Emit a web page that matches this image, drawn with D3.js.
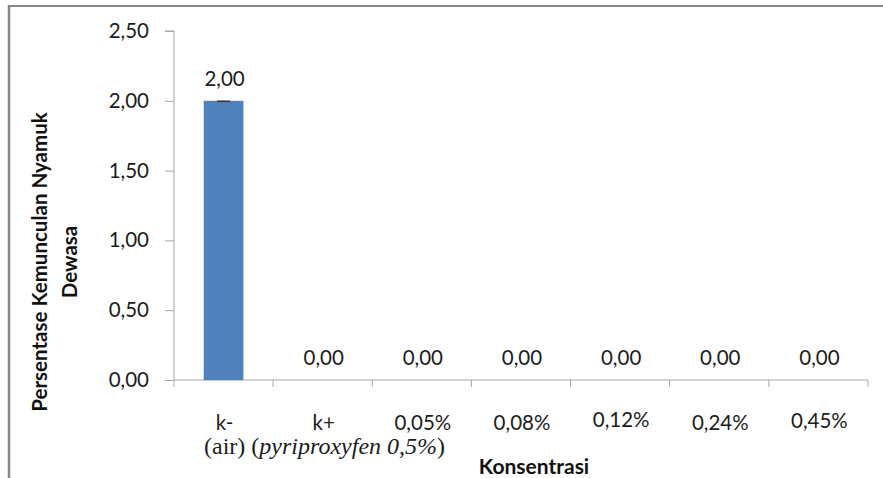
<!DOCTYPE html>
<html>
<head>
<meta charset="utf-8">
<script src="https://cdn.jsdelivr.net/npm/d3@7"></script>
<style>
  html, body { margin: 0; padding: 0; background: #fff; }
  svg { display: block; }
</style>
</head>
<body>
<script>
// Adult mosquito emergence percentage per treatment concentration
const categories = ["k-", "k+", "0,05%", "0,08%", "0,12%", "0,24%", "0,45%"];
const subLabels = ["(air)", "(pyriproxyfen 0,5%)", "", "", "", "", ""];
const values = [2.00, 0.00, 0.00, 0.00, 0.00, 0.00, 0.00];
const yTicks = [0, 0.5, 1.0, 1.5, 2.0, 2.5];

const W = 883, H = 478;
const fmt = v => d3.format(".2f")(v).replace(".", ",");

const svg = d3.select("body").append("svg").attr("width", W).attr("height", H);

// outer frame (top and left edges visible)
svg.append("line").attr("x1", 9).attr("x2", W).attr("y1", 6).attr("y2", 6)
  .attr("stroke", "#878787").attr("stroke-width", 2);
svg.append("line").attr("x1", 9).attr("x2", 9).attr("y1", 5).attr("y2", H)
  .attr("stroke", "#878787").attr("stroke-width", 2.5);

const x = d3.scaleBand().domain(categories).range([174, 868]).paddingInner(0.6).paddingOuter(0.3);
const xb = d3.scaleBand().domain(categories).range([174, 868]);
const y = d3.scaleLinear().domain([0, 2.5]).range([380, 31]);

const axisColor = "#a6a6a6";
const font = "Lato, 'Open Sans', sans-serif";
const textColor = "#1c1c1c";
const fs = "20.5px";

// y axis
const yAxis = svg.append("g").attr("transform", "translate(174,0)")
  .call(d3.axisLeft(y).tickValues(yTicks).tickFormat(fmt).tickSize(9).tickPadding(16));
yAxis.select(".domain").attr("stroke", axisColor).attr("d", `M-9,${y(2.5)}H0V${y(0)}`);
yAxis.selectAll(".tick line").attr("stroke", axisColor);
yAxis.selectAll(".tick text").attr("fill", textColor).style("font-family", font).style("font-size", fs);

// x axis with ticks at band boundaries
const xg = svg.append("g").attr("transform", "translate(0,380)");
xg.append("line").attr("x1", 174).attr("x2", 868).attr("stroke", axisColor);
const bounds = categories.map(c => xb(c)).concat([xb.range()[1]]);
xg.selectAll(".tk").data(bounds).join("line")
  .attr("x1", d => d).attr("x2", d => d).attr("y1", 0).attr("y2", 7)
  .attr("stroke", axisColor);

// bars
svg.selectAll(".bar").data(values).join("rect")
  .attr("x", (d, i) => x(categories[i]))
  .attr("width", x.bandwidth())
  .attr("y", d => y(d))
  .attr("height", d => y(0) - y(d))
  .attr("fill", "#4f81bd");

// zero-length error cap on top of the bar
svg.selectAll(".err").data(values.filter(v => v > 0)).join("line")
  .attr("x1", (d, i) => x(categories[i]) + x.bandwidth() / 2 - 6.5)
  .attr("x2", (d, i) => x(categories[i]) + x.bandwidth() / 2 + 6.5)
  .attr("y1", d => y(d) + 0.5).attr("y2", d => y(d) + 0.5)
  .attr("stroke", "#333").attr("stroke-width", 1.5);

// value labels
svg.selectAll(".val").data(values).join("text")
  .attr("x", (d, i) => xb(categories[i]) + xb.bandwidth() / 2 + 1)
  .attr("y", d => y(d) - 15)
  .attr("text-anchor", "middle")
  .style("font-family", font).style("font-size", fs).attr("fill", textColor)
  .text(d => fmt(d));

// category labels
const labelDy = [0, 0, 0, 0, -3, 0, -2.5];
svg.selectAll(".cat").data(categories).join("text")
  .attr("x", d => xb(d) + xb.bandwidth() / 2 + 1)
  .attr("y", (d, i) => 430 + labelDy[i])
  .attr("text-anchor", "middle")
  .style("font-family", font).style("font-size", fs).attr("fill", textColor)
  .text(d => d);

// second-line labels in serif
const sub = svg.append("text").attr("y", 454)
  .style("font-family", "'Liberation Serif', 'Times New Roman', serif").style("font-size", "24px").attr("fill", textColor);
sub.append("tspan").attr("x", 204).text(subLabels[0] + " ");
sub.append("tspan").text("(");
sub.append("tspan").style("font-style", "italic").text(subLabels[1].slice(1, -1));
sub.append("tspan").text(")");

// axis titles
svg.append("text").attr("x", 534).attr("y", 474).attr("text-anchor", "middle")
  .style("font-family", font).style("font-size", "21px").style("font-weight", "bold").attr("fill", "#111")
  .text("Konsentrasi");

const yt = svg.append("text").attr("transform", "translate(47,262) rotate(-90)")
  .attr("text-anchor", "middle")
  .style("font-family", font).style("font-size", "20.5px").style("font-weight", "bold").attr("fill", "#111");
yt.append("tspan").attr("x", 0).attr("y", 0).text("Persentase Kemunculan Nyamuk");
yt.append("tspan").attr("x", 0).attr("y", 30).text("Dewasa");
</script>
</body>
</html>
